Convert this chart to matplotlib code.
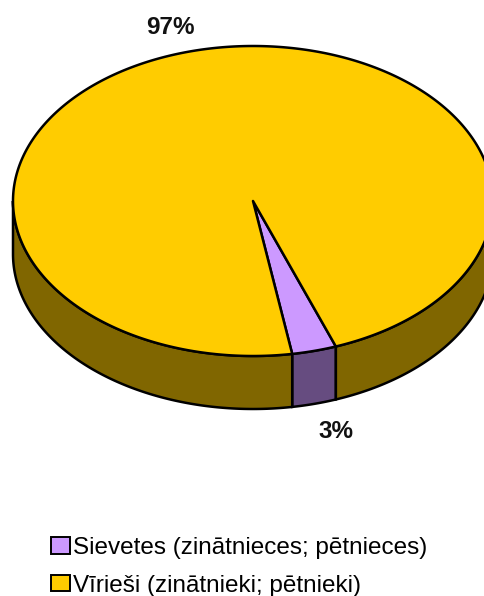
import numpy as np
import matplotlib
matplotlib.use("Agg")
import matplotlib.pyplot as plt
from matplotlib.patches import Patch

plt.rcParams['font.family'] = ['Liberation Sans', 'DejaVu Sans']

# data
labels = ['Sievetes (zinātnieces; pētnieces)', 'Vīrieši (zinātnieki; pētnieki)']
shares = [3, 97]
pct_labels = ['3%', '97%']
top_colors = ['#CC99FF', '#FFCC00']
side_colors = ['#664C80', '#806600']

# pie geometry in pixels
cx, cy = 253, 201
rx, ry = 240, 155
depth = 53
start = 80.6  # first slice starts here, going anticlockwise on screen


def rim(a, b):
    t = np.radians(np.linspace(a, b, max(int(abs(b - a) * 2), 2)))
    return cx + rx * np.cos(t), cy + ry * np.sin(t)


W, H = 485, 596
fig = plt.figure(figsize=(W / 100, H / 100), dpi=100)
ax = fig.add_axes([0, 0, 1, 1])
ax.set_xlim(0, W)
ax.set_ylim(H, 0)
ax.axis('off')

# angle ranges of the slices
a = start
ranges = []
for s in shares:
    ranges.append((a, a - s * 3.6))
    a = a - s * 3.6

# side wall, only the front half shows
for (a1, a2), col in zip(ranges, side_colors):
    for off in (0, 360):
        lo = max(min(a1, a2) + off, 0)
        hi = min(max(a1, a2) + off, 180)
        if lo < hi:
            x, y = rim(lo, hi)
            ax.fill(np.r_[x, x[::-1]], np.r_[y, y[::-1] + depth], fc=col, ec='black', lw=1.8, zorder=2)

# top face
for (a1, a2), col in zip(ranges, top_colors):
    x, y = rim(a1, a2)
    ax.fill(np.r_[cx, x], np.r_[cy, y], fc=col, ec='black', lw=1.8, zorder=3, joinstyle='round')

ax.text(170, 27.5, pct_labels[1], ha='center', va='center', fontsize=17.5, fontweight='bold', color='#111111')
ax.text(336, 432, pct_labels[0], ha='center', va='center', fontsize=17.5, fontweight='bold', color='#111111')

handles = [Patch(fc=c, ec='black', lw=1.4) for c in top_colors]
ax.legend(handles, labels, loc='upper left', bbox_to_anchor=(51 / W, 1 - 537 / H), frameon=False,
          fontsize=17.5, handlelength=0.78, handleheight=0.66, handletextpad=0.12,
          labelspacing=0.65, borderpad=0, borderaxespad=0)

fig.savefig('out.png', dpi=100)
